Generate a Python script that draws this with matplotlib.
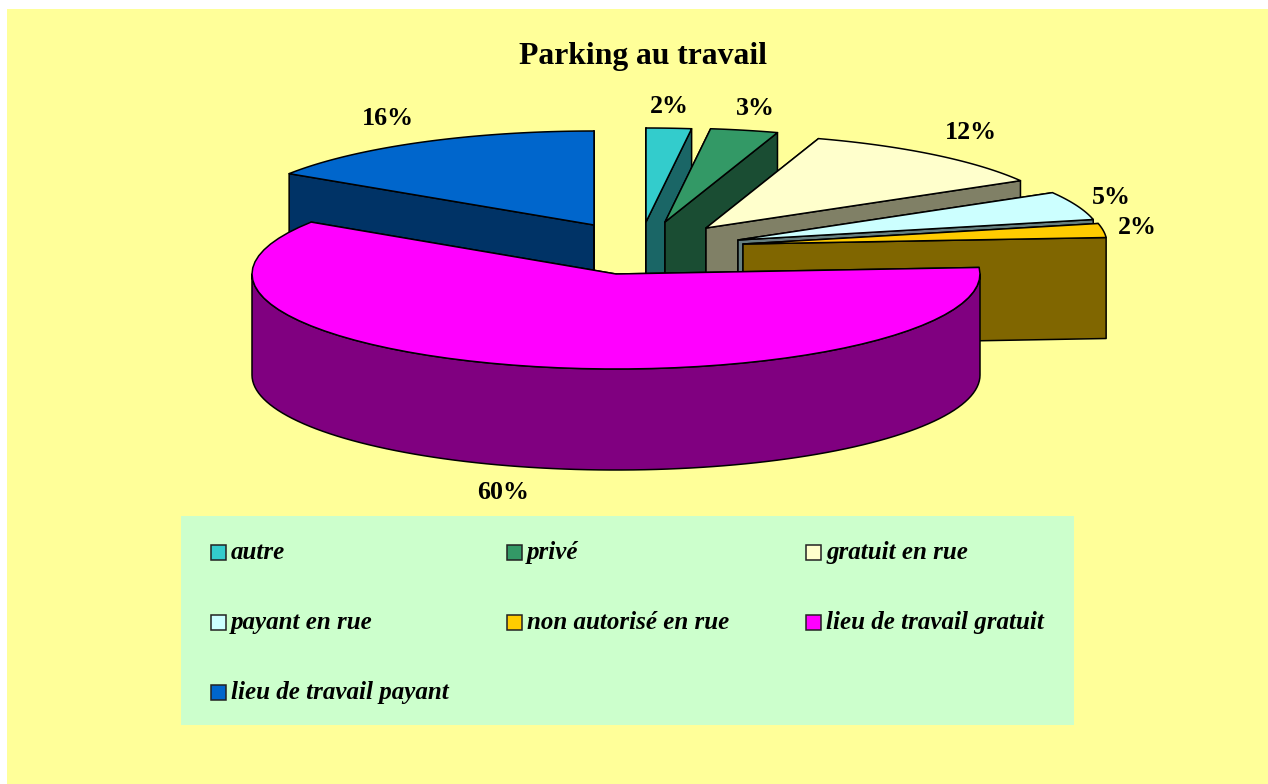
import numpy as np
import matplotlib.pyplot as plt
from matplotlib.patches import Polygon, Rectangle

plt.rcParams['font.family'] = ['Liberation Serif', 'DejaVu Serif']

# data
titre = "Parking au travail"
categories = ["autre", "privé", "gratuit en rue", "payant en rue",
              "non autorisé en rue", "lieu de travail gratuit", "lieu de travail payant"]
valeurs = [2, 3, 11.6, 4.9, 2.4, 60.3, 15.8]
couleurs = ["#33CCCC", "#339966", "#FFFFCC", "#CCFFFF", "#FFCC00", "#FF00FF", "#0066CC"]
couleurs_tamne = ["#1A6666", "#1A4D33", "#808066", "#668080", "#806600", "#800080", "#003366"]

# polozaj vrha svakog isecka (pikseli) i polozaj procenata
vrhovi = [(646, 222), (665, 222), (706, 228), (738, 240), (743, 244), (616, 274), (594, 225)]
pozicije_teksta = [(669, 113), (755, 115), (971, 139), (1111, 204), (1137, 234), (503, 499), (388, 125)]
legenda_poz = [(211, 552), (507, 552), (806, 552),
               (211, 622), (507, 622), (806, 622),
               (211, 692)]

# redosled crtanja, odozgo (pozadi) ka napred
redosled = [6, 0, 1, 2, 3, 4, 5]

rx = 364
ry = 94
ry_veliki = 95
dubina = 101
SIRINA, VISINA = 1268, 784

fig = plt.figure(figsize=(SIRINA / 100, VISINA / 100), dpi=100, facecolor="white")
ax = fig.add_axes([0, 0, 1, 1])
ax.set_xlim(0, SIRINA)
ax.set_ylim(VISINA, 0)
ax.axis("off")

ax.add_patch(Rectangle((7, 9), SIRINA - 7, VISINA - 9, facecolor="#FFFF99", edgecolor="none", zorder=0))
ax.add_patch(Rectangle((181, 516), 893, 209, facecolor="#CCFFCC", edgecolor="none", zorder=0))

kum = np.cumsum([0] + valeurs) / sum(valeurs) * 2 * np.pi


def tacka(vrh, ugao, r):
    return vrh[0] + rx * np.sin(ugao), vrh[1] - r * np.cos(ugao)


def poligon(tacke, boja, z):
    ax.add_patch(Polygon(tacke, closed=True, facecolor=boja, edgecolor="black",
                         linewidth=1.1, joinstyle="round", zorder=z))


z = 1
for i in redosled:
    vrh = vrhovi[i]
    u1, u2 = kum[i], kum[i + 1]
    r = ry_veliki if valeurs[i] > 50 else ry
    luk = [tacka(vrh, u, r) for u in np.linspace(u1, u2, 60)]
    a, b = luk[0], luk[-1]

    # bocne strane (isecak 90-270 stepeni ima i spoljni zid)
    poligon([vrh, a, (a[0], a[1] + dubina), (vrh[0], vrh[1] + dubina)], couleurs_tamne[i], z)
    poligon([vrh, b, (b[0], b[1] + dubina), (vrh[0], vrh[1] + dubina)], couleurs_tamne[i], z + 1)
    od = max(u1, np.pi / 2)
    do = min(u2, 3 * np.pi / 2)
    if od < do:
        zid = [tacka(vrh, u, r) for u in np.linspace(od, do, 100)]
        zid = zid + [(x, y + dubina) for x, y in reversed(zid)]
        poligon(zid, couleurs_tamne[i], z + 2)

    poligon([vrh] + luk, couleurs[i], z + 3)
    z += 4

for i in range(len(valeurs)):
    ax.text(pozicije_teksta[i][0], pozicije_teksta[i][1], str(int(round(valeurs[i]))) + "%",
            fontsize=18.7, fontweight="bold", ha="center", va="baseline", color="black", zorder=100)

ax.text(643, 64, titre, fontsize=22.8, fontweight="bold", ha="center", va="baseline", zorder=100)

for i in range(len(categories)):
    x, y = legenda_poz[i]
    ax.add_patch(Rectangle((x, y - 7), 15, 15, facecolor=couleurs[i], edgecolor="#222222",
                           linewidth=1.1, zorder=50))
    ax.text(x + 20, y + 7, categories[i], fontsize=18, fontweight="bold", fontstyle="italic",
            ha="left", va="baseline", color="black", zorder=100)

fig.savefig("out.png", dpi=100, facecolor="white")
